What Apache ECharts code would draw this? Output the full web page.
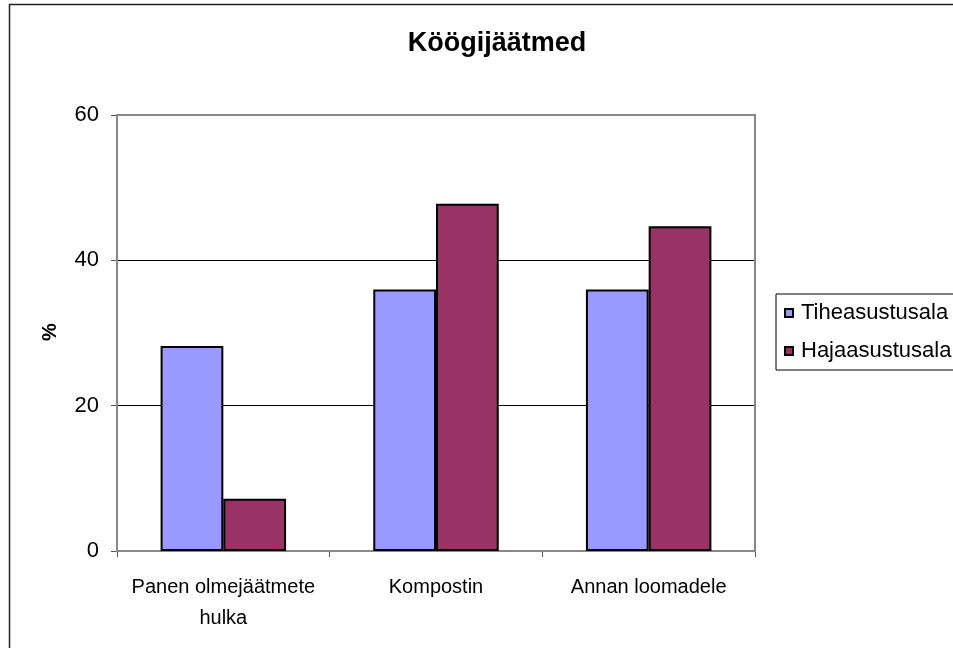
<!DOCTYPE html>
<html><head><meta charset="utf-8">
<script src="https://cdn.jsdelivr.net/npm/echarts@6/dist/echarts.min.js"></script>
<style>html,body{margin:0;padding:0;background:#fff}#c{width:953px;height:648px}</style>
</head><body><div id="c"></div>
<script>
const categories = ['Panen olmejäätmete\nhulka', 'Kompostin', 'Annan loomadele'];
const tiheasustusala = [28.2, 36.0, 36.0];
const hajaasustusala = [7.2, 47.8, 44.7];
const yTicks = [0, 20, 40, 60];

const chart = echarts.init(document.getElementById('c'), null, {renderer: 'canvas'});
const font = 'Liberation Sans, Arial, sans-serif';
chart.setOption({
  animation: false,
  backgroundColor: '#fff',
  title: {
    text: 'Köögijäätmed', left: 492, top: 25, textAlign: 'center',
    textStyle: {fontFamily: font, fontSize: 27, fontWeight: 'bold', color: '#000'}
  },
  graphic: [
    {type: 'rect', shape: {x: 9.5, y: 4.5, width: 1200, height: 1000}, style: {fill: 'none', stroke: '#222', lineWidth: 1.5}, z: 100},
    {type: 'rect', shape: {x: 117, y: 115, width: 638, height: 436}, style: {fill: 'none', stroke: '#888', lineWidth: 2}, z: 1},
    {type: 'text', x: 50, y: 332, rotation: Math.PI / 2, style: {text: '%', font: 'bold 20px ' + font, fill: '#000', textAlign: 'center', textVerticalAlign: 'middle'}}
  ],
  legend: {
    orient: 'vertical', left: 776, top: 294, itemWidth: 8, itemHeight: 8, itemGap: 16,
    icon: 'rect',
    borderColor: '#000', borderWidth: 1, padding: [8, 30, 8, 8],
    textStyle: {fontFamily: font, fontSize: 22, color: '#000', padding: [0, 0, 0, 3]},
    data: ['Tiheasustusala', 'Hajaasustusala']
  },
  grid: {left: 117, right: 198, top: 115, bottom: 97, containLabel: false},
  xAxis: {
    type: 'category', data: categories,
    axisLine: {lineStyle: {color: '#555', width: 1}},
    axisTick: {show: true, length: 6, lineStyle: {color: '#555'}},
    axisLabel: {fontFamily: font, fontSize: 20, color: '#000', margin: 21, lineHeight: 31, interval: 0},
    splitLine: {show: false}
  },
  yAxis: {
    type: 'value', min: 0, max: 60, interval: 20,
    axisLine: {show: true, lineStyle: {color: '#555'}},
    axisTick: {show: true, length: 6, lineStyle: {color: '#555'}},
    axisLabel: {fontFamily: font, fontSize: 22, color: '#000', margin: 18},
    splitLine: {show: true, lineStyle: {color: '#000', width: 1}}
  },
  series: [
    {name: 'Tiheasustusala', type: 'bar', data: tiheasustusala, barGap: '0%', barCategoryGap: '41%',
      itemStyle: {color: '#9999FF', borderColor: '#000', borderWidth: 2}},
    {name: 'Hajaasustusala', type: 'bar', data: hajaasustusala,
      itemStyle: {color: '#993366', borderColor: '#000', borderWidth: 2}}
  ]
});
</script></body></html>
